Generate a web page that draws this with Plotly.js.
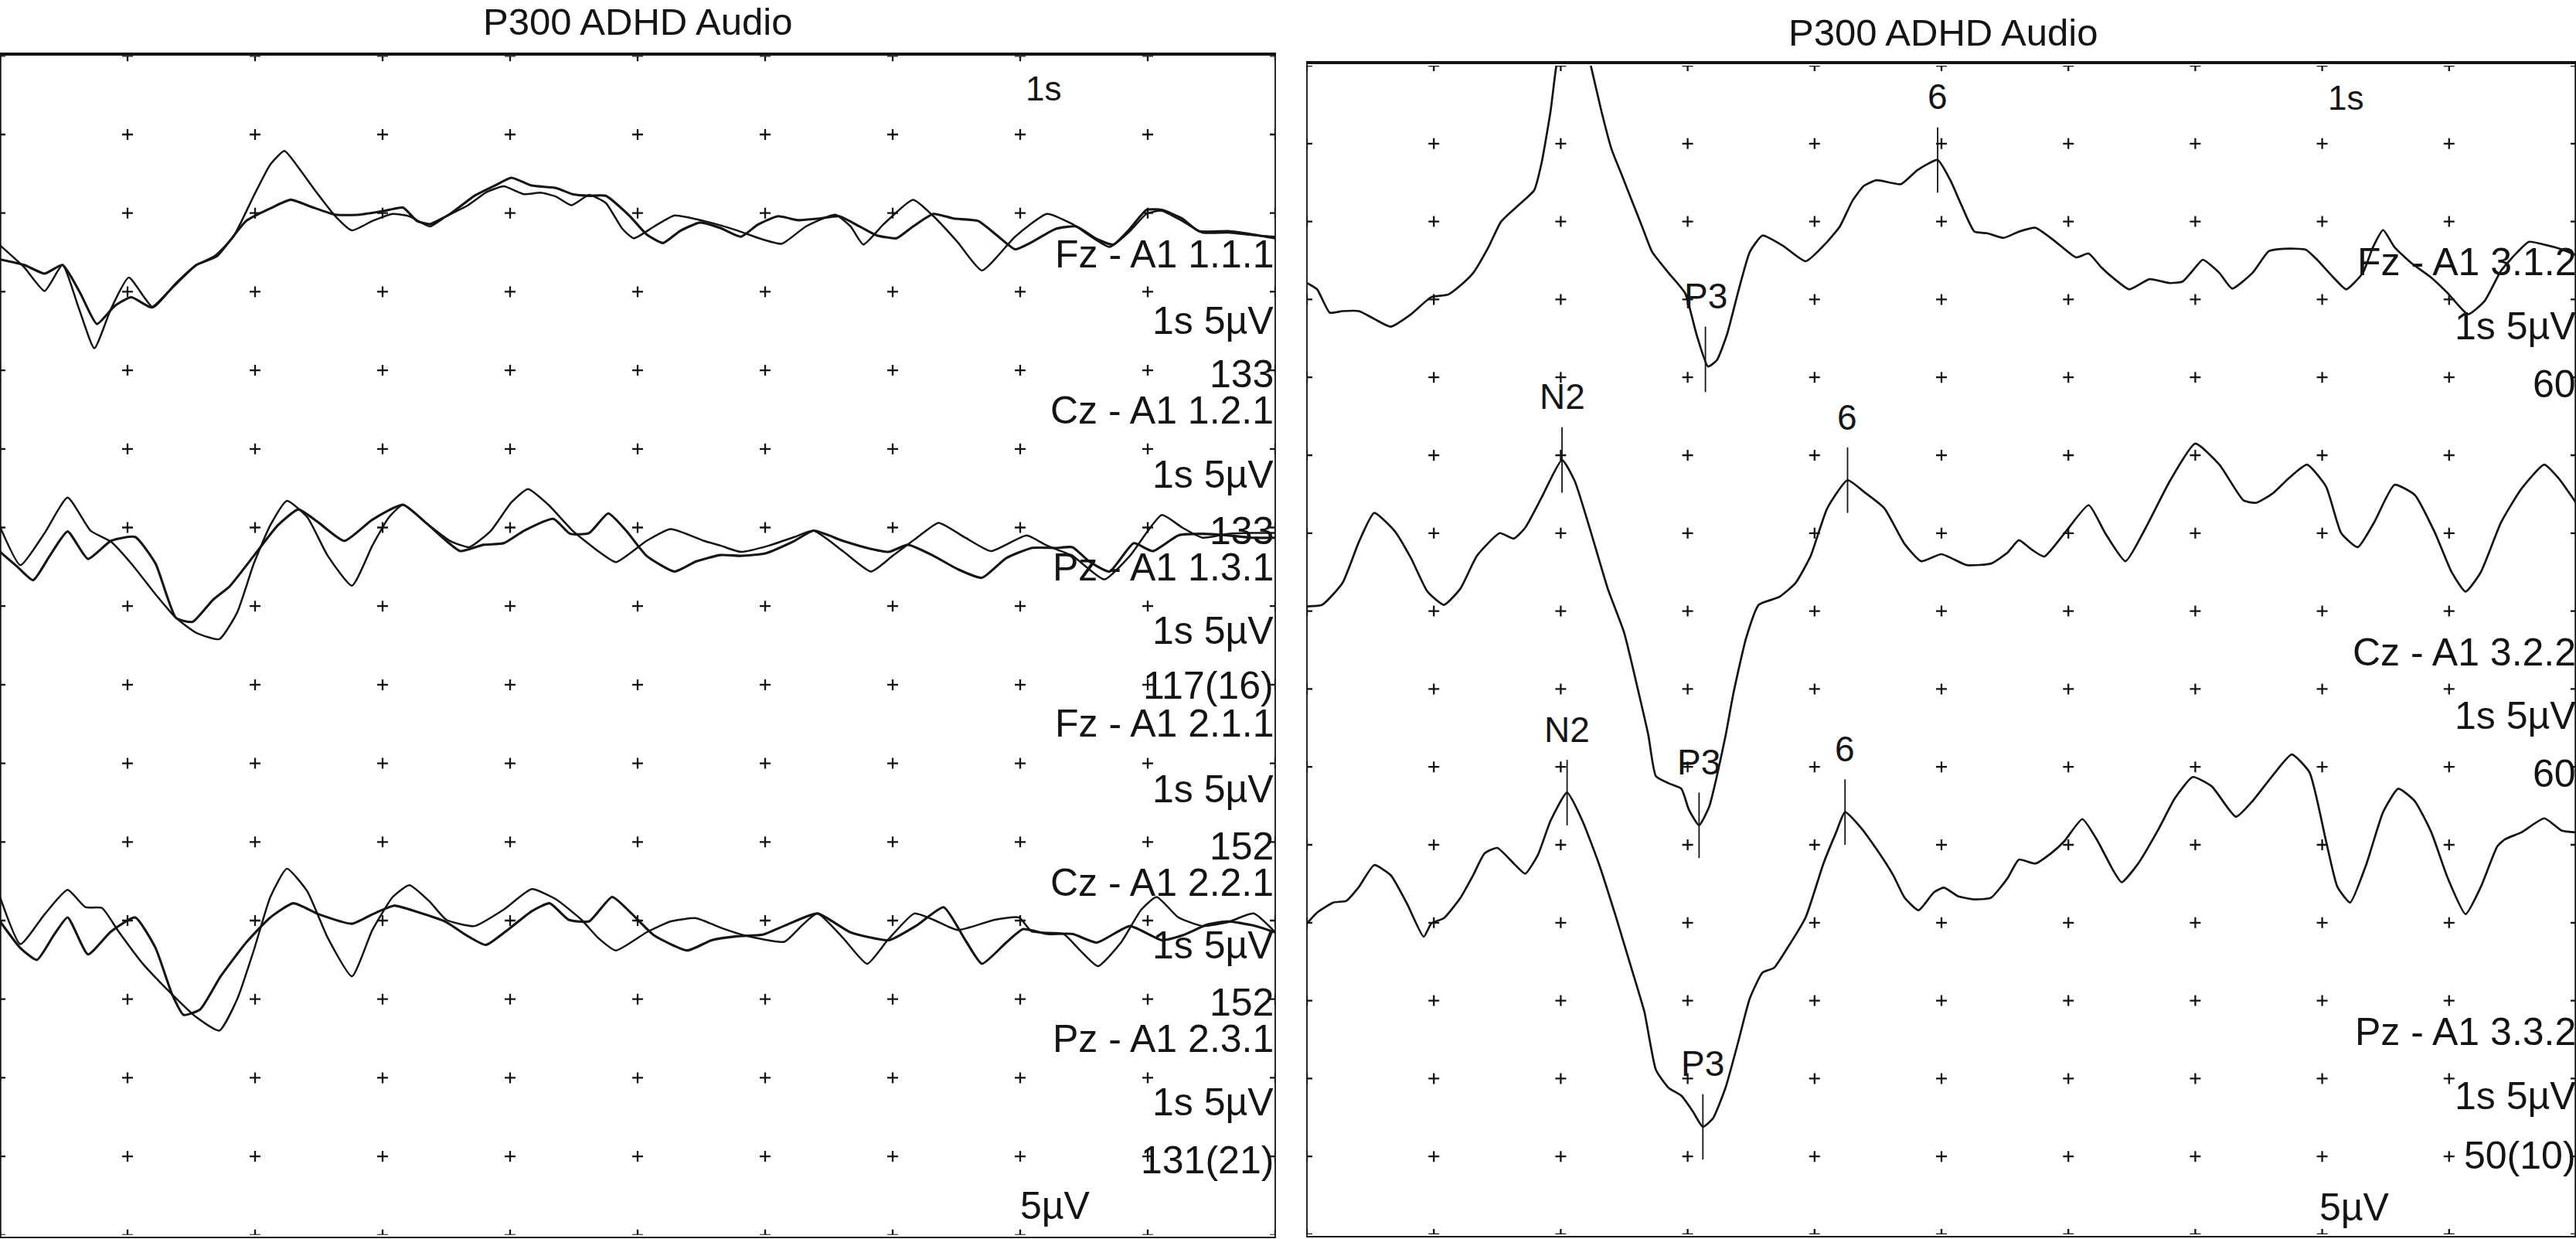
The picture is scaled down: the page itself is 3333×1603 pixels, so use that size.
<!DOCTYPE html>
<html><head><meta charset="utf-8">
<script src="https://cdn.plot.ly/plotly-3.0.1.min.js"></script>
<style>html,body{margin:0;padding:0;background:#fff;}#chart{width:3333px;height:1603px;}</style>
</head><body><div id="chart"></div>
<script>
// ---------- DATA (time in ms, amplitude in display units; negative up) ----------
// Left panel, session 1 and 2 overlays
const tFz1 = [0,19,35,49,62,74,87,101,120,138,154,168,183,199,212,223,234,247,263,276,292,308,321,337,350,366,382,395,411,424,436,448,462,475,488,497,513,529,552,578,597,613,632,655,667,677,693,716,732,751,770,796,821,841,870,886,899,911,927,943,963,982,1000];
const vFz1 = [3.3,6.1,9.1,5.8,11.4,16.4,11.4,7.4,11.2,8.1,5.8,4.7,2.2,-3.0,-7.0,-8.7,-6.6,-3.7,-0.4,1.4,0.2,-0.7,-0.4,0.9,-0.4,-1.7,-3.5,-4.2,-3.2,-3.4,-2.9,-1.8,-3.1,-2.1,1.2,2.4,0.9,-0.5,0.2,1.4,2.5,3.1,0.9,-0.6,0.9,3.2,0.6,-2.5,-0.4,2.9,6.5,2.2,-0.7,0.6,3.5,1.5,-0.7,-1.1,0.2,1.7,1.7,2.0,2.2];
const tFz2 = [0,19,35,49,63,76,90,103,119,135,154,170,193,212,228,244,263,282,302,316,327,337,353,372,388,401,417,436,449,462,475,494,507,520,533,549,565,581,594,610,626,642,658,674,687,703,716,732,748,767,783,796,809,828,844,860,873,886,899,911,927,940,963,982,1000];
const vFz2 = [5.1,5.8,6.9,5.8,9.4,13.3,11.0,9.9,11.2,8.7,5.8,4.7,0.2,-1.4,-2.5,-1.6,-0.6,-0.6,-1.1,-1.5,0.2,0.6,-0.7,-3.0,-4.3,-5.3,-4.3,-4.0,-3.2,-3.0,-3.0,-0.4,1.9,3.0,1.5,0.4,1.1,2.2,0.7,-0.4,0.1,-0.1,-0.4,0.9,2.0,2.4,0.9,-0.7,-0.1,0.2,2.2,3.8,2.9,1.2,0.9,2.5,3.2,1.2,-1.2,-1.2,-0.1,1.5,1.5,1.9,2.4];
const tCz1 = [0,16,35,53,71,87,103,122,138,154,172,186,199,212,225,241,257,276,292,305,316,334,353,368,385,401,414,430,449,469,483,507,526,552,565,581,603,623,638,661,683,700,719,736,757,777,805,821,841,866,886,911,927,943,963,982,1000];
const vCz1 = [-2.0,2.9,-1.2,-5.7,-1.5,-0.1,2.7,6.6,9.6,11.5,12.3,8.9,2.7,-2.2,-5.3,-3.2,1.7,5.5,0.4,-3.2,-4.8,-2.5,-0.2,0.6,-1.5,-5.1,-6.8,-4.8,-1.5,1.1,2.5,-0.2,-1.7,-0.2,0.4,1.2,0.4,-0.7,-1.5,1.1,3.7,1.7,-0.6,-2.5,-0.6,1.1,-0.9,0.4,1.7,4.7,1.7,-3.5,-1.9,-0.6,-1.1,-1.2,-1.2];
const tCz2 = [0,13,26,39,53,69,87,106,122,138,151,167,180,199,218,234,250,270,292,316,334,350,361,379,395,411,434,447,462,477,491,507,529,546,565,581,600,623,638,661,680,697,712,732,751,770,789,809,828,841,854,870,889,904,924,943,963,982,1000];
const vCz2 = [1.2,3.0,4.8,1.7,-1.4,2.1,-0.2,-0.7,2.7,9.6,10.1,7.3,5.6,1.7,-2.2,-4.2,-2.5,-0.2,-2.9,-4.8,-2.5,-0.2,1.1,0.3,0.1,-1.5,-3.0,-1.1,-1.2,-3.7,-1.5,1.7,3.7,2.4,1.6,1.7,1.4,-0.2,-1.5,-0.2,0.7,1.2,0.3,1.7,3.4,4.5,2.0,0.7,0.7,0.6,2.4,3.7,0.1,1.1,-0.9,-1.1,-0.9,-0.6,-0.6];
const tPz1 = [0,16,35,53,67,80,93,112,135,154,172,186,199,212,225,241,257,276,292,308,321,337,350,372,395,417,436,456,469,483,507,526,546,565,584,615,629,641,661,680,696,717,732,751,780,799,809,834,847,861,879,895,907,924,943,963,983,1000];
const vPz1 = [-3.1,2.9,-0.9,-4.0,-1.8,-1.7,1.3,5.4,9.3,12.2,13.9,9.9,3.7,-3.1,-6.7,-3.8,2.1,7.0,1.1,-3.1,-4.6,-2.5,-0.2,0.6,-1.5,-4.1,-2.8,-0.2,2.1,3.7,1.4,0.0,-0.4,0.8,1.8,2.6,0.5,-1.0,2.1,5.4,2.4,-1.0,-0.2,1.1,-0.2,-0.5,1.3,1.6,3.7,5.7,2.7,-1.5,-3.1,-0.5,0.6,0.1,-1.0,1.4];
const tPz2 = [0,16,29,42,53,69,87,106,122,135,144,157,173,193,212,230,250,276,292,309,327,350,366,381,398,417,431,446,462,480,494,513,539,558,578,598,616,641,667,697,719,740,757,770,789,802,821,841,860,886,911,927,947,963,982,1000];
const vPz2 = [0.0,3.4,4.9,1.8,-0.5,4.2,1.3,-0.5,3.4,9.3,11.9,11.2,7.0,2.7,-0.5,-2.3,-0.9,0.3,-0.9,-2.0,-1.2,0.1,1.8,3.0,1.1,-1.3,-2.3,-0.2,0.0,-3.1,-1.2,1.8,3.7,2.4,1.9,1.7,0.5,-1.0,1.4,2.4,0.5,-1.8,2.4,5.4,2.7,1.0,1.6,1.6,2.7,0.6,2.4,1.8,0.4,0.0,0.5,1.4];
// Right panel, session 3
const tFz3 = [0,8,18,28,41,53,66,82,98,111,121,131,143,153,166,179,185,192,197,210,223,232,240,248,256,264,272,285,298,307,316,323,331,340,349,359,375,393,410,420,430,439,449,468,481,497,507,516,526,536,549,561,574,590,606,616,626,635,648,664,680,690,700,706,719,729,745,758,770,787,796,809,819,832,840,848,857,870,886,899,915,928,941,954,963,976,989,1000];
const vFz3 = [-0.1,0.7,3.7,3.5,3.5,4.5,5.5,3.9,1.7,1.4,0.2,-1.4,-4.7,-8.0,-10.0,-12.0,-15.6,-22.2,-28.5,-37.1,-28.5,-22.2,-17.3,-14.0,-10.7,-7.4,-4.1,-1.4,1.2,6.5,10.6,9.8,6.5,0.9,-4.1,-6.2,-4.9,-2.9,-5.4,-7.4,-10.7,-12.6,-13.3,-12.8,-14.6,-15.9,-13.3,-10.0,-6.7,-6.5,-5.9,-6.7,-7.2,-5.4,-3.4,-3.9,-2.1,-0.8,0.7,-0.6,-0.1,-0.3,-2.1,-3.1,-1.4,0.6,-1.4,-4.2,-4.5,-4.4,-3.1,-0.8,0.7,-1.4,-4.7,-6.9,-4.7,-2.7,-0.8,1.2,3.9,2.2,-1.7,-4.1,-5.4,-5.0,-4.4,-3.7];
const tCz3 = [0,12,28,41,53,69,82,95,108,121,134,152,163,172,185,201,211,224,237,250,262,269,275,285,295,301,309,317,323,330,336,346,356,372,385,397,410,426,439,455,471,484,500,520,539,552,561,571,581,597,616,629,645,661,680,700,719,738,748,761,774,788,803,815,828,841,857,873,889,902,913,925,941,957,975,986,1000];
const vCz3 = [0.4,0.2,-2.6,-7.9,-11.6,-9.3,-5.8,-1.5,0.2,-1.9,-6.1,-9.0,-8.3,-9.7,-13.6,-18.4,-15.7,-9.0,-1.9,3.8,11.9,16.9,22.2,23.1,23.8,26.5,28.5,26.1,22.2,16.9,11.6,4.5,0.2,-0.8,-2.6,-6.1,-12.2,-15.8,-14.3,-12.2,-7.6,-5.4,-6.3,-4.9,-5.1,-6.5,-8.1,-6.9,-6.0,-9.0,-12.6,-9.0,-5.4,-9.7,-15.7,-20.5,-17.8,-13.2,-12.9,-14.1,-16.1,-17.8,-15.0,-9.0,-7.2,-10.4,-15.2,-13.9,-9.0,-4.0,-1.5,-4.0,-10.4,-14.7,-17.8,-16.1,-12.9];
const tPz3 = [0,8,21,31,41,53,66,79,92,98,108,121,131,140,150,163,172,182,192,205,217,230,243,256,266,275,285,295,304,312,320,330,340,349,359,368,378,393,407,417,424,436,449,462,471,482,494,502,513,526,539,552,561,574,587,597,611,623,635,642,655,671,684,698,713,732,745,761,776,790,803,812,822,835,848,860,873,886,899,913,925,938,944,957,975,989,1000];
const vPz3 = [0.1,-1.3,-2.6,-2.8,-4.6,-7.4,-6.1,-2.4,1.8,0.1,-0.6,-3.2,-6.1,-8.9,-9.6,-7.6,-6.3,-8.7,-13.1,-16.7,-13.1,-7.6,-1.0,6.0,11.5,18.9,21.2,22.2,24.2,26.2,25.1,21.1,15.2,9.7,6.4,5.8,3.4,-0.7,-7.6,-11.6,-14.2,-12.3,-9.4,-6.1,-3.2,-1.6,-3.9,-4.5,-3.4,-3.0,-3.2,-5.7,-8.1,-7.6,-9.0,-10.5,-13.3,-10.5,-6.8,-5.2,-7.6,-12.0,-16.0,-18.7,-17.5,-13.6,-15.6,-18.9,-21.6,-19.3,-10.5,-4.6,-2.6,-7.6,-14.2,-17.2,-15.6,-11.6,-5.7,-1.1,-4.6,-9.8,-10.7,-11.6,-13.4,-11.8,-11.6];

// Peak marks (right panel)
const peakChannel = ["fz","fz","cz","cz","cz","pz","pz","pz"];
const peakNames   = ["6","P3","N2","P3","6","N2","P3","6"];
const peakTimes   = [497,314,201,309,426,205,312,424];

// Text
const titleText = "P300 ADHD Audio";
const leftLabels  = ["Fz - A1 1.1.1","1s 5µV","133","Cz - A1 1.2.1","1s 5µV","133","Pz - A1 1.3.1","1s 5µV","117(16)","Fz - A1 2.1.1","1s 5µV","152","Cz - A1 2.2.1","1s 5µV","152","Pz - A1 2.3.1","1s 5µV","131(21)"];
const rightLabels = ["Fz - A1 3.1.2","1s 5µV","60","Cz - A1 3.2.2","1s 5µV","60","Pz - A1 3.3.2","1s 5µV","50(10)"];
const gridTimes = [0,100,200,300,400,500,600,700,800,900,1000];
const gridRows  = [0,10,20,30,40,50,60,70,80,90,100,110,120,130,140,150];

// ---------- LAYOUT ----------
const W = 3333, H = 1603;
const px = x => x / W;
const py = y => 1 - y / H;
const INK = '#141414';
const FONT = 'Liberation Sans, Arial, Helvetica, sans-serif';

// baselines (plot units from top of panel)
const baseL = {fz: 20.8, cz: 61.9, pz: 110.1};
const baseR = {fz: 28, cz: 69, pz: 110};

function wave(t, v, base, xa, ya, w) {
  return {x: t, y: v.map(a => base + a), xaxis: xa, yaxis: ya, mode: 'lines',
    line: {color: INK, width: w, shape: 'spline', smoothing: 0.5}, hoverinfo: 'skip'};
}
function valueAt(t, v, time) {
  for (let i = 1; i < t.length; i++) {
    if (time <= t[i]) { const f = (time - t[i-1]) / (t[i] - t[i-1]); return v[i-1] + f * (v[i] - v[i-1]); }
  }
  return v[v.length - 1];
}
function gridTrace(xa, ya) {
  const xs = [], ys = [];
  gridTimes.forEach(g => gridRows.forEach(r => { xs.push(g); ys.push(r); }));
  return {x: xs, y: ys, xaxis: xa, yaxis: ya, mode: 'markers', hoverinfo: 'skip',
    marker: {symbol: 'cross-thin', size: 10, color: INK, line: {color: INK, width: 2.3}}};
}

const data = [
  gridTrace('x', 'y'), gridTrace('x2', 'y2'),
  wave(tFz1, vFz1, baseL.fz, 'x', 'y', 2.5), wave(tFz2, vFz2, baseL.fz, 'x', 'y', 3.1),
  wave(tCz1, vCz1, baseL.cz, 'x', 'y', 2.5), wave(tCz2, vCz2, baseL.cz, 'x', 'y', 3.1),
  wave(tPz1, vPz1, baseL.pz, 'x', 'y', 2.5), wave(tPz2, vPz2, baseL.pz, 'x', 'y', 3.1),
  wave(tFz3, vFz3, baseR.fz, 'x2', 'y2', 2.7),
  wave(tCz3, vCz3, baseR.cz, 'x2', 'y2', 2.7),
  wave(tPz3, vPz3, baseR.pz, 'x2', 'y2', 2.7)
];

const series3 = {fz: [tFz3, vFz3], cz: [tCz3, vCz3], pz: [tPz3, vPz3]};
const annotations = [];
const HALF = 4.2;
peakTimes.forEach((pt, i) => {
  const ch = peakChannel[i];
  const yv = baseR[ch] + valueAt(series3[ch][0], series3[ch][1], pt);
  data.push({x: [pt, pt], y: [yv - HALF, yv + HALF], xaxis: 'x2', yaxis: 'y2', mode: 'lines',
    line: {color: INK, width: 1.8}, hoverinfo: 'skip'});
  annotations.push({xref: 'x2', yref: 'y2', x: pt, y: yv - HALF - 3.9, text: peakNames[i],
    showarrow: false, xanchor: 'center', yanchor: 'middle', font: {family: FONT, size: 46, color: INK}});
});

function txt(x, y, text, anchor, size) {
  return {xref: 'paper', yref: 'paper', x: px(x), y: py(y), text: text, showarrow: false,
    xanchor: anchor, yanchor: 'middle', font: {family: FONT, size: size, color: INK}};
}
annotations.push(txt(825, 28, titleText, 'center', 49));
annotations.push(txt(2514, 42, titleText, 'center', 49));
annotations.push(txt(1350, 114, '1s', 'center', 44));
annotations.push(txt(3035, 127, '1s', 'center', 44));
annotations.push(txt(1365, 1560, '5µV', 'center', 50));
annotations.push(txt(3046, 1562, '5µV', 'center', 50));
const leftY  = [329,415,484,531,614,687,734,816,887,936,1021,1095,1142,1223,1297,1344,1426,1501];
const rightY = [339,422,497,844,926,1001,1335,1418,1495];
leftLabels.forEach((s, i) => annotations.push(txt(1650, leftY[i], s, 'right', 50)));
rightLabels.forEach((s, i) => annotations.push(txt(3335, rightY[i], s, 'right', 50)));

const shapes = [
  {type: 'rect', xref: 'paper', yref: 'paper', x0: px(0.8), x1: px(1650), y0: py(70), y1: py(1601), line: {color: INK, width: 1.8}},
  {type: 'line', xref: 'paper', yref: 'paper', x0: px(0), x1: px(1651), y0: py(70), y1: py(70), line: {color: INK, width: 3.8}},
  {type: 'rect', xref: 'paper', yref: 'paper', x0: px(1691), x1: px(3332.2), y0: py(81), y1: py(1600), line: {color: INK, width: 1.8}},
  {type: 'line', xref: 'paper', yref: 'paper', x0: px(1690), x1: px(3333), y0: py(81), y1: py(81), line: {color: INK, width: 3.8}}
];

const axisBase = {showgrid: false, zeroline: false, showticklabels: false, ticks: '', showline: false, fixedrange: true};
const layout = {
  width: W, height: H, margin: {l: 0, r: 0, t: 0, b: 0},
  paper_bgcolor: '#ffffff', plot_bgcolor: 'rgba(0,0,0,0)', showlegend: false,
  xaxis:  Object.assign({}, axisBase, {domain: [0, px(1650)], range: [0, 1000]}),
  yaxis:  Object.assign({}, axisBase, {domain: [py(1597.8), py(72.3)], range: [150, 0]}),
  xaxis2: Object.assign({}, axisBase, {domain: [px(1691), 1], range: [0, 1000], anchor: 'y2'}),
  yaxis2: Object.assign({}, axisBase, {domain: [py(1597), py(85)], range: [150, 0], anchor: 'x2'}),
  annotations: annotations, shapes: shapes
};
Plotly.newPlot('chart', data, layout, {staticPlot: true, displayModeBar: false});
</script></body></html>
